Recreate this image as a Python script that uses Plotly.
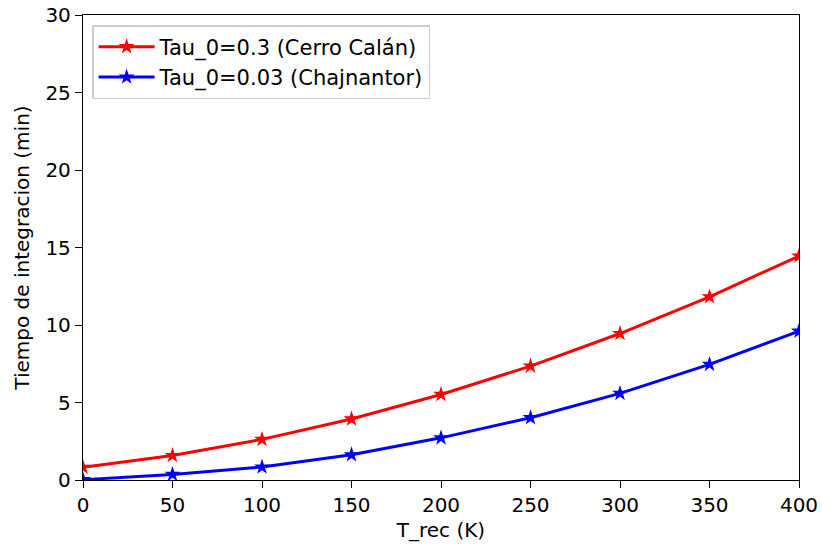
import plotly.graph_objects as go

t_rec = [0, 50, 100, 150, 200, 250, 300, 350, 400]
tiempo_calan = [0.82, 1.58, 2.62, 3.94, 5.52, 7.35, 9.45, 11.82, 14.45]
tiempo_chaj = [0.02, 0.36, 0.84, 1.63, 2.72, 4.02, 5.59, 7.46, 9.6]
x_ticks = [0, 50, 100, 150, 200, 250, 300, 350, 400]
y_ticks = [0, 5, 10, 15, 20, 25, 30]

fig = go.Figure()
fig.add_trace(go.Scatter(x=t_rec, y=tiempo_calan, mode="lines+markers",
                         name="Tau_0=0.3 (Cerro Calán)",
                         line=dict(color="red", width=3),
                         marker=dict(symbol="star", size=12, color="red")))
fig.add_trace(go.Scatter(x=t_rec, y=tiempo_chaj, mode="lines+markers",
                         name="Tau_0=0.03 (Chajnantor)",
                         line=dict(color="blue", width=3),
                         marker=dict(symbol="star", size=12, color="blue")))

axis_common = dict(showline=True, linecolor="black", linewidth=1.3, mirror=True,
                   ticks="outside", ticklen=7, tickwidth=1.3, tickcolor="black",
                   showgrid=False, zeroline=False, ticklabeloverflow="allow",
                   automargin=False,
                   tickfont=dict(family="DejaVu Sans", size=20, color="black"))

fig.update_layout(
    width=822, height=549,
    margin=dict(l=83, r=23, t=15, b=69),
    paper_bgcolor="white", plot_bgcolor="white",
    font=dict(family="DejaVu Sans", size=20, color="black"),
    xaxis=dict(range=[0, 400], tickvals=x_ticks,
               title=dict(text="T_rec (K)", font=dict(size=20), standoff=6), **axis_common),
    yaxis=dict(range=[0, 30], tickvals=y_ticks,
               title=dict(text="Tiempo de integracion (min)", font=dict(size=20), standoff=10), **axis_common),
    legend=dict(x=0.013, y=0.978, xanchor="left", yanchor="top",
                bgcolor="white", bordercolor="#cccccc", borderwidth=1.3,
                font=dict(size=21), itemwidth=56, tracegroupgap=4),
    showlegend=True,
)

# remove the default page margin so the 822x549 figure fills the window exactly
fig.write_html("out.html",
               config={"displayModeBar": False},
               post_script="document.body.style.margin='0';document.body.style.overflow='hidden';")
